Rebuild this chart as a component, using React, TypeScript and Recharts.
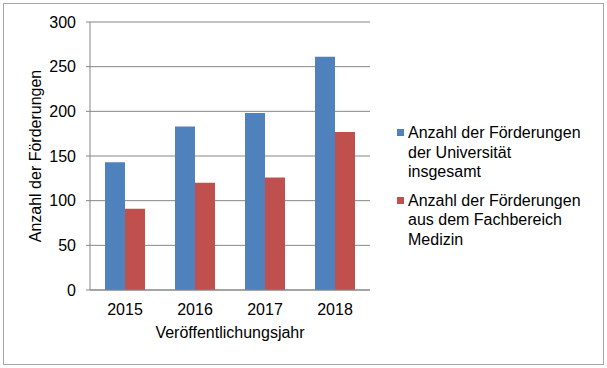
import { BarChart, Bar, XAxis, YAxis, CartesianGrid, Legend } from 'recharts';

const years = ['2015', '2016', '2017', '2018'];
const uniTotal = [143, 183, 198, 261];
const medizin = [91, 120, 126, 177];
const yTicks = [0, 50, 100, 150, 200, 250, 300];
const seriesOrder = ['uni', 'med'];

const data = years.map((year, i) => ({ year, uni: uniTotal[i], med: medizin[i] }));

const font = '"Liberation Sans", Arial, sans-serif';
const grey = '#868686';

const renderLegend = (props: any) => {
    const payload = [...(props.payload || [])].sort(
        (a: any, b: any) => seriesOrder.indexOf(a.dataKey) - seriesOrder.indexOf(b.dataKey)
    );
    return (
        <div style={{ fontFamily: font, fontSize: 16, lineHeight: '19.5px', color: '#000' }}>
            {payload.map((entry: any) => (
                <div key={entry.value} style={{ display: 'flex', alignItems: 'flex-start', marginBottom: 9 }}>
                    <span
                        style={{
                            width: 7,
                            height: 7,
                            background: entry.color,
                            marginTop: 6,
                            marginRight: 4,
                            flex: 'none',
                        }}
                    />
                    <span style={{ width: 176 }}>{entry.value}</span>
                </div>
            ))}
        </div>
    );
};

export default function App() {
    return (
        <div style={{ position: 'fixed', left: 0, top: 0, width: 607, height: 368, background: '#fff' }}>
            <div
                style={{
                    position: 'absolute',
                    left: 3,
                    top: 3,
                    width: 599,
                    height: 360,
                    border: '1px solid #a6a6a6',
                }}
            />
            <div style={{ position: 'absolute', left: 0, top: 0 }}>
                <BarChart
                    width={607}
                    height={368}
                    data={data}
                    margin={{ top: 22, right: 237, bottom: 28, left: 0 }}
                    barGap={0}
                    barSize={20}
                >
                    <CartesianGrid vertical={false} stroke={grey} />
                    <XAxis
                        dataKey="year"
                        height={50}
                        axisLine={{ stroke: grey }}
                        tickLine={false}
                        tickSize={6}
                        tickMargin={8}
                        tick={{ fill: '#000', fontSize: 16, fontFamily: font }}
                        label={{
                            value: 'Veröffentlichungsjahr',
                            position: 'insideBottom',
                            offset: 2,
                            style: { fill: '#000', fontSize: 16, fontFamily: font },
                        }}
                    />
                    <YAxis
                        width={90}
                        domain={[0, 300]}
                        ticks={yTicks}
                        axisLine={{ stroke: grey }}
                        tickLine={{ stroke: grey }}
                        tickSize={4}
                        tickMargin={10}
                        tick={{ fill: '#000', fontSize: 16, fontFamily: font }}
                        label={{
                            value: 'Anzahl der Förderungen',
                            angle: -90,
                            position: 'insideLeft',
                            offset: 35,
                            style: { fill: '#000', fontSize: 16, fontFamily: font, textAnchor: 'middle' },
                        }}
                    />
                    <Legend
                        layout="vertical"
                        align="center"
                        verticalAlign="middle"
                        content={renderLegend}
                        wrapperStyle={{ left: 397, top: 123, width: 205 }}
                    />
                    <Bar
                        dataKey="uni"
                        name="Anzahl der Förderungen der Universität insgesamt"
                        fill="#4F81BD"
                        isAnimationActive={false}
                    />
                    <Bar
                        dataKey="med"
                        name="Anzahl der Förderungen aus dem Fachbereich Medizin"
                        fill="#C0504D"
                        isAnimationActive={false}
                    />
                </BarChart>
            </div>
        </div>
    );
}
